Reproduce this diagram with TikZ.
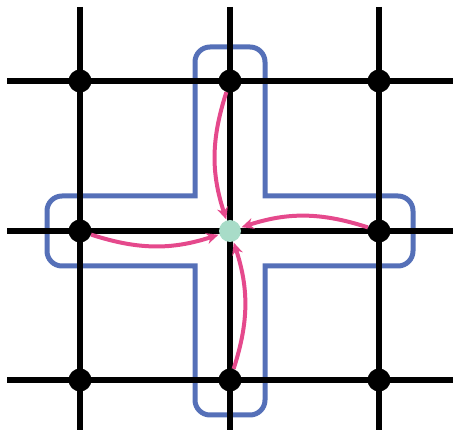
\documentclass[tikz,border=0pt]{standalone}
\usetikzlibrary{arrows.meta}
\definecolor{crossblue}{HTML}{5570B8}
\definecolor{arrowpink}{HTML}{E5498C}
\definecolor{mint}{HTML}{A8DCC8}
\tikzset{
  gridline/.style={line width=6.5pt, black},
  crossline/.style={line width=5pt, crossblue},
  vdot/.style={circle, fill=black, inner sep=0pt, minimum size=23pt},
  cdot/.style={circle, fill=mint, inner sep=0pt, minimum size=22pt},
  flow/.style={line width=4pt, arrowpink, -{Stealth[length=12pt,width=11pt]}, bend right=18, shorten >=1pt}
}
\begin{document}
\begin{tikzpicture}[x=1pt,y=-1pt]
\useasboundingbox (0,0) rectangle (453,430);
% blue cross outline
\draw[crossline] (195,196) -- (195,62) arc(180:270:15) -- (250,47) arc(270:360:15)
  -- (265,196) -- (398,196) arc(270:360:15) -- (413,251) arc(0:90:15)
  -- (265,266) -- (265,400) arc(0:90:15) -- (210,415) arc(90:180:15)
  -- (195,266) -- (62,266) arc(90:180:15) -- (47,211) arc(180:270:15) -- cycle;
% grid line ends
\coordinate (v1t) at (80,7);  \coordinate (v1b) at (80,430);
\coordinate (v2t) at (230,7); \coordinate (v2b) at (230,430);
\coordinate (v3t) at (379,7); \coordinate (v3b) at (379,430);
\coordinate (h1l) at (7,81);  \coordinate (h1r) at (453,81);
\coordinate (h2l) at (7,231); \coordinate (h2r) at (453,231);
\coordinate (h3l) at (7,380); \coordinate (h3r) at (453,380);
\draw[gridline] (v1t) -- (v1b);
\draw[gridline] (v2t) -- (v2b);
\draw[gridline] (v3t) -- (v3b);
\draw[gridline] (h1l) -- (h1r);
\draw[gridline] (h2l) -- (h2r);
\draw[gridline] (h3l) -- (h3r);
% vertices
\node[vdot] (a11) at (80,81) {};
\node[vdot] (a12) at (230,81) {};
\node[vdot] (a13) at (379,81) {};
\node[vdot] (a21) at (80,231) {};
\node[cdot] (c)   at (230,231) {};
\node[vdot] (a23) at (379,231) {};
\node[vdot] (a31) at (80,380) {};
\node[vdot] (a32) at (230,380) {};
\node[vdot] (a33) at (379,380) {};
% arrows
\draw[flow] (a12) to (c);
\draw[flow] (a21) to (c);
\draw[flow] (a23) to (c);
\draw[flow] (a32) to (c);
\end{tikzpicture}
\end{document}
